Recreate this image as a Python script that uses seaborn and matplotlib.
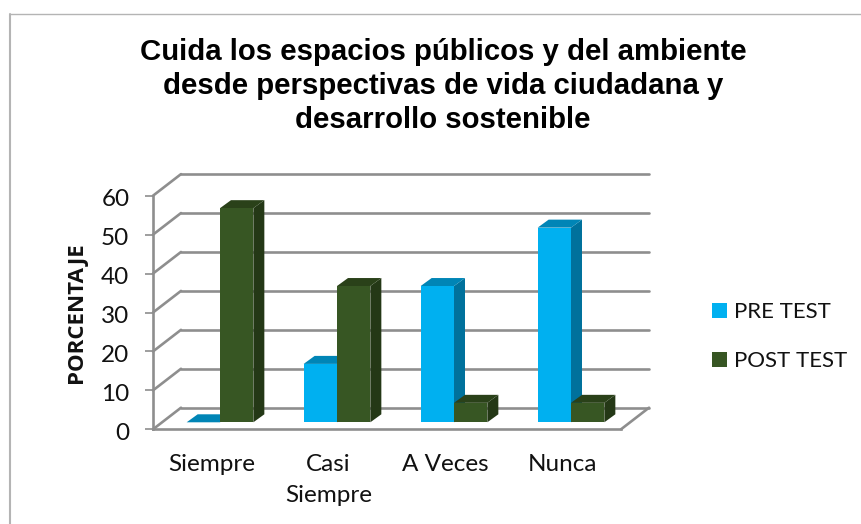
import pandas as pd
import seaborn as sns
import matplotlib.pyplot as plt
from matplotlib.patches import Polygon
from matplotlib.transforms import ScaledTranslation

categories = ['Siempre', 'Casi\nSiempre', 'A Veces', 'Nunca']
pre_test = [0, 15, 35, 50]
post_test = [55, 35, 5, 5]
series_names = ['PRE TEST', 'POST TEST']
y_ticks = [0, 10, 20, 30, 40, 50, 60]
title = 'Cuida los espacios públicos y del ambiente\ndesde perspectivas de vida ciudadana y\ndesarrollo sostenible'

W, H = 862, 524
GREY = '#8e8e8e'
FRONT = ['#00b0f0', '#375623']
SIDE = ['#00719c', '#243816']
TOP = ['#0085b6', '#2a4119']

sns.set_theme(style='white')
plt.rcParams['font.family'] = ['Lato', 'DejaVu Sans']

def px_axes(fig, left, right, top, bottom):
    return fig.add_axes([left/W, 1-bottom/H, (right-left)/W, (bottom-top)/H])

fig = plt.figure(figsize=(W/100, H/100), dpi=100)

# outer chart border
fig.add_artist(plt.Line2D([10/W, 10/W], [0, 1-13.5/H], color='#b4b4b4', lw=1.5))
fig.add_artist(plt.Line2D([10/W, 1], [1-13.5/H, 1-13.5/H], color='#b4b4b4', lw=1))

# front plane: carries axis, ticks and labels
ax = px_axes(fig, 153, 621, 195.7, 429.3)
ax.set_xlim(-0.5, 3.5)
ax.set_ylim(0, 60)
ax.patch.set_alpha(0)
ux = 468/4       # px per category
uy = 233.6/60    # px per y unit
depth_x, depth_y = 28/ux, 21.6/uy
x0, x1 = -0.5, 3.5
for v in y_ticks:
    ax.plot([x0+depth_x, x1+depth_x], [v+depth_y, v+depth_y], color=GREY, lw=1.9, clip_on=False, zorder=1)
    ax.plot([x0, x0+depth_x], [v, v+depth_y], color=GREY, lw=1.9, clip_on=False, zorder=1)
ax.plot([x1, x1+depth_x], [0, depth_y], color=GREY, lw=1.9, clip_on=False, zorder=1)

ax.set_xticks(range(len(categories)))
ax.set_xticklabels(categories, fontsize=17.5, color='#111111', linespacing=1.62, va='top')
ax.set_yticks(y_ticks)
ax.tick_params(axis='y', length=6, width=1.2, color=GREY, labelsize=17.5, labelcolor='#111111', pad=11, left=True)
ax.tick_params(axis='x', length=0, pad=17.5)
for lab in ax.get_yticklabels():
    lab.set_transform(lab.get_transform() + ScaledTranslation(0, -2/100, fig.dpi_scale_trans))
sns.despine(ax=ax, top=True, right=True)
for s in ['left', 'bottom']:
    ax.spines[s].set_color(GREY)
    ax.spines[s].set_linewidth(1.9)
ax.set_ylabel('PORCENTAJE', fontsize=16, fontweight='bold', family=['Open Sans', 'DejaVu Sans'], color='#111111')
ax.yaxis.set_label_coords((87-153)/468, 0.5)

# bars sit a little behind the front plane
ax2 = px_axes(fig, 161.5, 629.5, 188.7, 422.3)
df = pd.DataFrame({
    'cat': categories*2,
    'serie': [series_names[0]]*4 + [series_names[1]]*4,
    'valor': pre_test + post_test,
})
sns.barplot(data=df, x='cat', y='valor', hue='serie', palette=FRONT, width=0.57, gap=0,
            saturation=1, legend=False, ax=ax2, zorder=3)
ax2.set_xlim(-0.5, 3.5)
ax2.set_ylim(0, 60)
ax2.axis('off')

bar_x, bar_y = 11/ux, 8/uy
rects = list(ax2.patches)
for i, p in enumerate(rects):
    s = 0 if i < 4 else 1
    a, w, h = p.get_x(), p.get_width(), p.get_height()
    p.set_zorder(4+2*s)
    p.set_linewidth(0)
    ax2.add_patch(Polygon([(a+w, 0), (a+w+bar_x, bar_y), (a+w+bar_x, h+bar_y), (a+w, h)],
                          fc=SIDE[s], lw=0, zorder=3+2*s, clip_on=False))
    ax2.add_patch(Polygon([(a, h), (a+w, h), (a+w+bar_x, h+bar_y), (a+bar_x, h+bar_y)],
                          fc=TOP[s], lw=0, zorder=3+2*s, clip_on=False))

fig.text(443/W, 1-86/H, title, ha='center', va='center', fontsize=21.2, fontweight='bold',
         family='Liberation Sans', color='black', linespacing=1.28)

# legend
handles = [plt.Rectangle((0, 0), 1, 1, fc=c, lw=0) for c in FRONT]
fig.legend(handles, series_names, loc='center left', bbox_to_anchor=(712/W, 1-336.5/H), frameon=False,
           fontsize=16, handlelength=0.68, handleheight=0.68, handletextpad=0.32, labelspacing=1.3,
           borderpad=0, borderaxespad=0, labelcolor='#111111')

fig.savefig('out.png', dpi=100)
